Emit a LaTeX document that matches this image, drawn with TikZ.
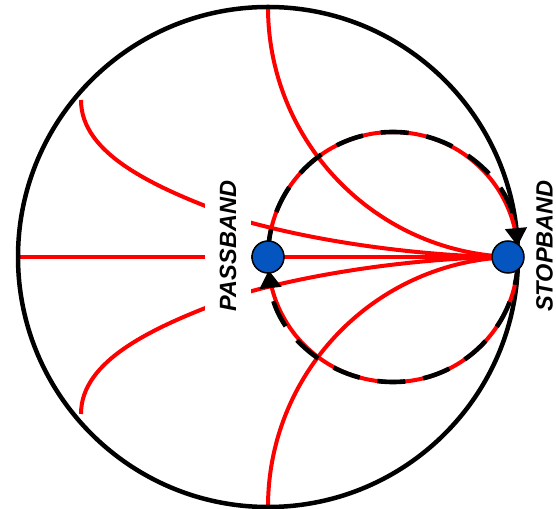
\documentclass[tikz,border=0pt]{standalone}
\usepackage{fontspec}
\setmainfont{Liberation Sans}
\usepackage{xcolor}
\usetikzlibrary{arrows.meta,calc}
\definecolor{dotblue}{HTML}{0455BF}
\definecolor{chartred}{HTML}{FF0000}

\begin{document}
\begin{tikzpicture}[
  x=1pt,y=1pt,
  >={Triangle[length=18pt,width=21pt]},
  grid/.style={chartred,line width=4pt},
  rim/.style={black,line width=4.5pt},
  flow/.style={->,black,line width=4.6pt,dash pattern=on 28pt off 18pt},
  band/.style={circle,draw=black,line width=1.5pt,fill=dotblue,
               minimum size=32pt,inner sep=0pt},
  tag/.style={rotate=90,font=\fontsize{23.5}{28}\selectfont\bfseries\itshape,
              inner xsep=1pt,inner ysep=0pt}
]
\useasboundingbox (0,0) rectangle (556,508);
\coordinate (chart) at (268,251);
\coordinate (rcirc) at (393,251);
\coordinate (passpt) at (268,251);
\coordinate (stoppt) at (508,251);

% reactance and resistance lines
\draw[grid] (18,251) -- (stoppt);
\draw[grid] (268,501) arc[start angle=180,end angle=270,radius=250];
\draw[grid] (268,1) arc[start angle=180,end angle=90,radius=250];
\draw[grid] (81,408) .. controls (81,355) and (150,320) .. (252,285)
  .. controls (345,260) and (450,251) .. (stoppt);
\draw[grid] (81,94) .. controls (81,147) and (150,182) .. (252,217)
  .. controls (345,242) and (450,251) .. (stoppt);
\node[tag,fill=white,inner ysep=15pt] (passlbl) at (228,262) {PASSBAND};

% chart rim and r=1 circle
\draw[rim] (chart) circle[radius=250];
\draw[grid] (rcirc) circle[radius=125];
\draw[flow] (passpt) arc[start angle=180,end angle=5,radius=125];
\draw[flow] ($(rcirc)+(0:125)$) arc[start angle=0,end angle=-174,radius=125];

\node[band] (pass) at (passpt) {};
\node[band] (stop) at (stoppt) {};
\node[tag] (stoplbl) at (544.5,262) {STOPBAND};
\end{tikzpicture}
\end{document}
